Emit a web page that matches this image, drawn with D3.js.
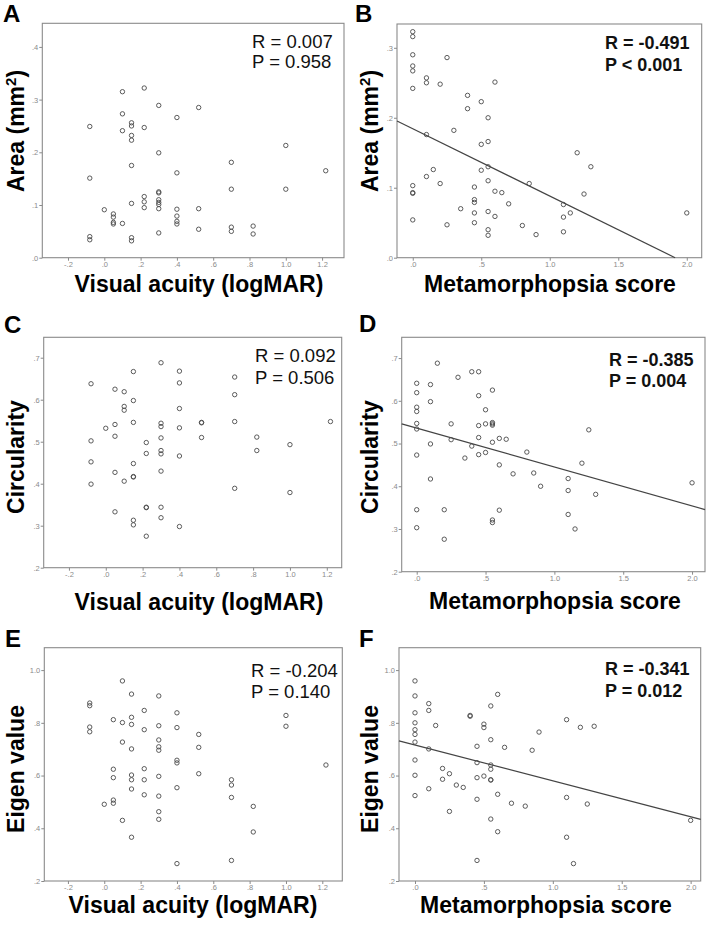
<!DOCTYPE html>
<html><head><meta charset="utf-8">
<script src="https://cdn.jsdelivr.net/npm/d3@7"></script>
<style>html,body{margin:0;padding:0;background:#fff;}svg{display:block;font-family:"Liberation Sans",Arial,Helvetica,sans-serif;}</style>
</head><body>
<svg id="chart" width="708" height="926"></svg>
<script>
// ---------- DATA ----------
// Panel A: visual acuity (logMAR) vs area (mm2)
const dataA = [
  [-0.08,0.249],[-0.08,0.151],[-0.08,0.040],[-0.08,0.034],
  [0,0.091],
  [0.05,0.083],[0.05,0.077],[0.05,0.067],[0.05,0.064],
  [0.1,0.315],[0.1,0.273],[0.1,0.241],[0.1,0.065],
  [0.15,0.256],[0.15,0.250],[0.15,0.232],[0.15,0.223],[0.15,0.175],[0.15,0.103],[0.15,0.038],[0.15,0.032],
  [0.22,0.322],[0.22,0.247],[0.22,0.116],[0.22,0.106],[0.22,0.095],
  [0.3,0.289],[0.3,0.199],[0.3,0.125],[0.3,0.123],[0.3,0.110],[0.3,0.105],[0.3,0.101],[0.3,0.093],[0.3,0.047],
  [0.4,0.266],[0.4,0.161],[0.4,0.092],[0.4,0.079],[0.4,0.069],[0.4,0.064],
  [0.52,0.285],[0.52,0.093],[0.52,0.054],
  [0.7,0.181],[0.7,0.130],[0.7,0.058],[0.7,0.050],
  [0.82,0.060],[0.82,0.045],
  [1.0,0.213],[1.0,0.130],
  [1.22,0.165]
];
// Panel B: metamorphopsia score vs area (mm2)
const dataB = [
  [0,0.323],[0,0.316],[0,0.290],[0,0.274],[0,0.267],[0,0.242],[0,0.103],[0,0.093],[0,0.092],[0,0.054],
  [0.1,0.257],[0.1,0.250],[0.1,0.176],[0.1,0.116],
  [0.15,0.126],
  [0.2,0.248],[0.2,0.106],
  [0.25,0.286],[0.25,0.047],
  [0.3,0.182],
  [0.35,0.070],
  [0.4,0.232],[0.4,0.213],
  [0.45,0.101],[0.45,0.083],[0.45,0.079],[0.45,0.064],[0.45,0.050],
  [0.5,0.223],[0.5,0.162],[0.5,0.125],
  [0.55,0.200],[0.55,0.166],[0.55,0.130],[0.55,0.110],[0.55,0.066],[0.55,0.040],[0.55,0.032],
  [0.6,0.251],[0.6,0.095],[0.6,0.059],
  [0.65,0.093],[0.7,0.077],[0.8,0.046],[0.85,0.106],[0.9,0.033],
  [1.1,0.076],[1.1,0.058],[1.1,0.037],
  [1.15,0.064],[1.2,0.150],[1.25,0.091],[1.3,0.130],[2.0,0.064]
];
// Panel C: visual acuity vs circularity
const dataC = [
  [-0.08,0.638],[-0.08,0.502],[-0.08,0.452],[-0.08,0.399],
  [0,0.532],
  [0.05,0.625],[0.05,0.541],[0.05,0.513],[0.05,0.427],[0.05,0.333],
  [0.1,0.619],[0.1,0.584],[0.1,0.575],[0.1,0.406],
  [0.15,0.667],[0.15,0.598],[0.15,0.546],[0.15,0.448],[0.15,0.417],[0.15,0.416],[0.15,0.313],[0.15,0.302],
  [0.22,0.498],[0.22,0.472],[0.22,0.344],[0.22,0.343],[0.22,0.275],
  [0.3,0.688],[0.3,0.544],[0.3,0.536],[0.3,0.509],[0.3,0.479],[0.3,0.471],[0.3,0.430],[0.3,0.344],[0.3,0.319],
  [0.4,0.668],[0.4,0.640],[0.4,0.579],[0.4,0.533],[0.4,0.466],[0.4,0.298],
  [0.52,0.546],[0.52,0.545],[0.52,0.510],
  [0.7,0.654],[0.7,0.612],[0.7,0.548],[0.7,0.389],
  [0.82,0.511],[0.82,0.479],
  [1.0,0.493],[1.0,0.379],
  [1.22,0.548]
];
// Panel D: metamorphopsia score vs circularity
const dataD = [
  [0,0.641],[0,0.619],[0,0.585],[0,0.575],[0,0.547],[0,0.534],[0,0.473],[0,0.345],[0,0.303],
  [0.1,0.638],[0.1,0.598],[0.1,0.499],[0.1,0.417],
  [0.15,0.688],
  [0.2,0.345],[0.2,0.276],
  [0.25,0.546],[0.25,0.509],
  [0.3,0.655],
  [0.35,0.466],
  [0.4,0.668],[0.4,0.494],
  [0.45,0.668],[0.45,0.612],[0.45,0.542],[0.45,0.514],[0.45,0.474],
  [0.5,0.579],[0.5,0.546],[0.5,0.479],
  [0.55,0.625],[0.55,0.549],[0.55,0.546],[0.55,0.543],[0.55,0.503],[0.55,0.321],[0.55,0.315],
  [0.6,0.512],[0.6,0.450],[0.6,0.344],
  [0.65,0.510],[0.7,0.429],[0.8,0.480],[0.85,0.431],[0.9,0.400],
  [1.1,0.418],[1.1,0.390],[1.1,0.334],
  [1.15,0.300],[1.2,0.454],[1.25,0.532],[1.3,0.381],[2.0,0.408]
];
// Panel E: visual acuity vs eigen value
const dataE = [
  [-0.08,0.875],[-0.08,0.865],[-0.08,0.784],[-0.08,0.766],
  [0,0.491],
  [0.05,0.812],[0.05,0.624],[0.05,0.592],[0.05,0.507],[0.05,0.495],
  [0.1,0.959],[0.1,0.801],[0.1,0.727],[0.1,0.430],
  [0.15,0.909],[0.15,0.821],[0.15,0.794],[0.15,0.701],[0.15,0.602],[0.15,0.584],[0.15,0.549],[0.15,0.366],
  [0.22,0.847],[0.22,0.774],[0.22,0.626],[0.22,0.584],[0.22,0.527],
  [0.3,0.902],[0.3,0.789],[0.3,0.735],[0.3,0.709],[0.3,0.696],[0.3,0.597],[0.3,0.522],[0.3,0.463],[0.3,0.434],
  [0.4,0.838],[0.4,0.782],[0.4,0.658],[0.4,0.648],[0.4,0.554],[0.4,0.266],
  [0.52,0.756],[0.52,0.707],[0.52,0.607],
  [0.7,0.584],[0.7,0.564],[0.7,0.517],[0.7,0.278],
  [0.82,0.483],[0.82,0.386],
  [1.0,0.828],[1.0,0.787],
  [1.22,0.640]
];
// Panel F: metamorphopsia score vs eigen value
const dataF = [
  [0,0.959],[0,0.902],[0,0.838],[0,0.800],[0,0.774],[0,0.756],[0,0.727],[0,0.659],[0,0.601],[0,0.524],
  [0.1,0.873],[0.1,0.847],[0.1,0.701],[0.1,0.550],
  [0.15,0.790],
  [0.2,0.627],[0.2,0.586],
  [0.25,0.607],[0.25,0.464],
  [0.3,0.564],
  [0.35,0.555],
  [0.4,0.828],[0.4,0.825],
  [0.45,0.711],[0.45,0.649],[0.45,0.592],[0.45,0.510],[0.45,0.278],
  [0.5,0.795],[0.5,0.782],[0.5,0.598],
  [0.55,0.864],[0.55,0.736],[0.55,0.640],[0.55,0.624],[0.55,0.584],[0.55,0.583],[0.55,0.435],
  [0.6,0.908],[0.6,0.529],[0.6,0.387],
  [0.65,0.707],[0.7,0.495],[0.8,0.484],[0.85,0.696],[0.9,0.765],
  [1.1,0.812],[1.1,0.517],[1.1,0.366],
  [1.15,0.266],[1.2,0.783],[1.25,0.492],[1.3,0.787],[2.0,0.430]
];
// Fitted regression lines [intercept, slope]
const fitB = [0.1844, -0.0963];
const fitD = [0.536, -0.091];
const fitF = [0.716, -0.136];

// Tick values
const ticksVA = [-0.2, 0, 0.2, 0.4, 0.6, 0.8, 1.0, 1.2];
const ticksMS = [0, 0.5, 1.0, 1.5, 2.0];
const ticksArea = [0, 0.1, 0.2, 0.3, 0.4];
const ticksAreaB = [0, 0.1, 0.2, 0.3];
const ticksCirc = [0.2, 0.3, 0.4, 0.5, 0.6, 0.7];
const ticksEigen = [0.2, 0.4, 0.6, 0.8, 1.0];

// Labels
const panelLetters = ["A","B","C","D","E","F"];
const xTitles = ["Visual acuity (logMAR)","Metamorphopsia score","Visual acuity (logMAR)","Metamorphopsia score","Visual acuity (logMAR)","Metamorphopsia score"];
const yTitles = ["Area (mm2)","Area (mm2)","Circularity","Circularity","Eigen value","Eigen value"];
const statR = ["R = 0.007","R = -0.491","R = 0.092","R = -0.385","R = -0.204","R = -0.341"];
const statP = ["P = 0.958","P < 0.001","P = 0.506","P = 0.004","P = 0.140","P = 0.012"];

// ---------- LAYOUT ----------
const panels = [
  {data:dataA, fit:null, xt:ticksVA, yt:ticksArea, frame:[42.3,23.3,344,257.7], xd:[-0.3416,1.3207], yd:[0,0.4448],
   letter:[3,22], ytitle:[24,131], xtitle:[199,291.5], stat:[252,48.3,68.3], bold:false},
  {data:dataB, fit:fitB, xt:ticksMS, yt:ticksAreaB, frame:[397,24,701.7,257.7], xd:[-0.115,2.109], yd:[0,0.334],
   letter:[355,22], ytitle:[378,131], xtitle:[550,291.5], stat:[605,49.3,71], bold:true},
  {data:dataC, fit:null, xt:ticksVA, yt:ticksCirc, frame:[43.7,337.3,341.7,567.7], xd:[-0.337,1.281], yd:[0.2,0.7486],
   letter:[4,333], ytitle:[24,457], xtitle:[199,609.5], stat:[255,361.7,384], bold:false},
  {data:dataD, fit:fitD, xt:ticksMS, yt:ticksCirc, frame:[401.7,337.3,705,571.7], xd:[-0.109,2.094], yd:[0.2,0.7486],
   letter:[359,332], ytitle:[378,457], xtitle:[555,609], stat:[609,365.7,387.3], bold:true},
  {data:dataE, fit:null, xt:ticksVA, yt:ticksEigen, frame:[44.3,647.7,342.3,881], xd:[-0.330,1.310], yd:[0.2,1.085],
   letter:[5,647], ytitle:[24,769], xtitle:[193,913], stat:[251,676.7,698.3], bold:false},
  {data:dataF, fit:fitF, xt:ticksMS, yt:ticksEigen, frame:[399,647.7,700.7,881], xd:[-0.116,2.073], yd:[0.2,1.085],
   letter:[359,647], ytitle:[378,769], xtitle:[546,913], stat:[605,675,696.7], bold:true}
];

const fmt = d => {
  if (Math.abs(d) < 1e-9) return ".0";
  const s = d.toFixed(1);
  return Math.abs(d) < 1 ? s.replace("0.", ".") : s;
};

const svg = d3.select("#chart");
svg.append("rect").attr("width",708).attr("height",926).attr("fill","#fff");

panels.forEach((p, i) => {
  const [l,t,r,b] = p.frame;
  const x = d3.scaleLinear().domain(p.xd).range([l,r]);
  const y = d3.scaleLinear().domain(p.yd).range([b,t]);
  const g = svg.append("g");

  // axes
  const xa = g.append("g").attr("transform",`translate(0,${b})`)
    .call(d3.axisBottom(x).tickValues(p.xt).tickFormat(fmt).tickSize(3).tickPadding(1));
  const ya = g.append("g").attr("transform",`translate(${l},0)`)
    .call(d3.axisLeft(y).tickValues(p.yt).tickFormat(fmt).tickSize(3).tickPadding(1));
  [xa, ya].forEach(a => {
    a.select(".domain").remove();
    a.selectAll("line").attr("stroke","#8a8a8a").attr("stroke-width",1);
    a.selectAll("text").attr("fill","#8a8a8a").attr("font-size",7.5)
      .attr("font-family","'Liberation Sans',Arial,sans-serif");
  });

  // frame
  g.append("rect").attr("x",l).attr("y",t).attr("width",r-l).attr("height",b-t)
    .attr("fill","none").attr("stroke","#8a8a8a").attr("stroke-width",1.1);

  // fit line
  if (p.fit) {
    const [a0, a1] = p.fit;
    const xs = [p.xd[0], p.xd[1]];
    let pts = xs.map(v => [v, a0 + a1*v]);
    if (pts[1][1] < p.yd[0]) { const xv = (p.yd[0]-a0)/a1; pts[1] = [xv, p.yd[0]]; }
    g.append("line")
      .attr("x1",x(pts[0][0])).attr("y1",y(pts[0][1]))
      .attr("x2",x(pts[1][0])).attr("y2",y(pts[1][1]))
      .attr("stroke","#444").attr("stroke-width",1.2);
  }

  // points
  g.selectAll("circle.pt").data(p.data).enter().append("circle")
    .attr("class","pt").attr("cx",d=>x(d[0])).attr("cy",d=>y(d[1])).attr("r",2.2)
    .attr("fill","none").attr("stroke","#4a4a4a").attr("stroke-width",0.9);

  // panel letter
  g.append("text").attr("x",p.letter[0]).attr("y",p.letter[1]).text(panelLetters[i])
    .attr("font-size",24).attr("font-weight","bold").attr("fill","#000");

  // x title
  g.append("text").attr("x",p.xtitle[0]).attr("y",p.xtitle[1]).attr("text-anchor","middle")
    .attr("font-size",23).attr("font-weight","bold").attr("fill","#000").text(xTitles[i]);

  // y title
  const yt = g.append("text").attr("transform",`translate(${p.ytitle[0]},${p.ytitle[1]}) rotate(-90)`)
    .attr("text-anchor","middle").attr("font-size",23).attr("font-weight","bold").attr("fill","#000");
  const yTitle = yTitles[i];
  if (yTitle.indexOf("mm2") >= 0) {
    yt.append("tspan").text("Area (mm");
    yt.append("tspan").text("2").attr("font-size",15).attr("dy",-8);
    yt.append("tspan").text(")").attr("dy",8);
  } else {
    yt.text(yTitle);
  }

  // stats
  const st = g.append("g").attr("font-size", p.bold ? 18 : 18.5).attr("font-weight", p.bold ? "bold" : "normal").attr("fill","#111");
  st.append("text").attr("x",p.stat[0]).attr("y",p.stat[1]).text(statR[i]);
  st.append("text").attr("x",p.stat[0]).attr("y",p.stat[2]).text(statP[i]);
});
</script>
</body></html>
